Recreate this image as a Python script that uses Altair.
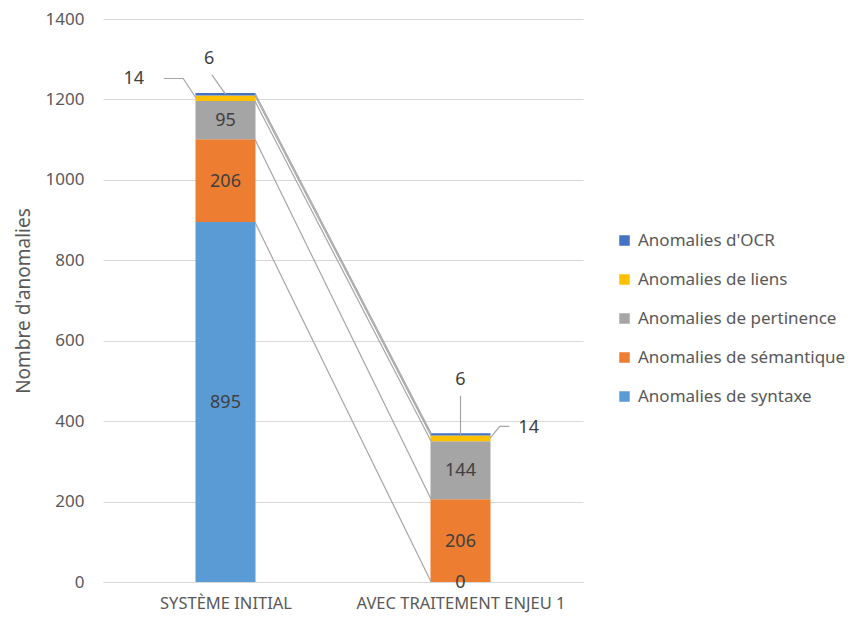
import altair as alt
import pandas as pd

categories = ["SYSTÈME INITIAL", "AVEC TRAITEMENT ENJEU 1"]
series = ["Anomalies de syntaxe", "Anomalies de sémantique", "Anomalies de pertinence",
          "Anomalies de liens", "Anomalies d'OCR"]
colors = ["#5B9BD5", "#ED7D31", "#A5A5A5", "#FFC000", "#4472C4"]
values_initial = [895, 206, 95, 14, 6]
values_traite = [0, 206, 144, 14, 6]

FONT = "Noto Sans"
TXT = "#404040"
AX = "#595959"
HALF = 0.125  # half bar width in category units

rows = []
for ci, vals in enumerate([values_initial, values_traite]):
    cum = 0
    for si, (s, v) in enumerate(zip(series, vals)):
        rows.append(dict(pos=ci, cat=categories[ci], series=s, v=v, y0=cum, y1=cum + v,
                         mid=cum + v / 2, sidx=si))
        cum += v
df = pd.DataFrame(rows)

# series lines connecting cumulative tops
sl = []
for si in range(len(series)):
    a = df[(df.pos == 0) & (df.sidx == si)].iloc[0]
    b = df[(df.pos == 1) & (df.sidx == si)].iloc[0]
    sl.append(dict(x=0 + HALF, x2=1 - HALF, y=a.y1, y2=b.y1))
sl = pd.DataFrame(sl)

inside = df[df.sidx <= 2].copy()
inside["label"] = inside.v.astype(int).astype(str)

def seg(ci, si):
    return df[(df.pos == ci) & (df.sidx == si)].iloc[0]

# callout labels (small segments) with leader lines
callouts = pd.DataFrame([
    dict(label="14", x=-0.39, y=seg(0, 3).y1 + 40),
    dict(label="6", x=-0.07, y=seg(0, 4).y1 + 85),
    dict(label="6", x=1.0, y=seg(1, 4).y1 + 133),
    dict(label="14", x=1.29, y=seg(1, 3).y1 + 18),
])
leaders = pd.DataFrame([
    dict(id=0, o=0, x=-HALF, y=seg(0, 3).mid), dict(id=0, o=1, x=-0.18, y=seg(0, 3).y1 + 42),
    dict(id=0, o=2, x=-0.2625, y=seg(0, 3).y1 + 42),
    dict(id=1, o=0, x=0.0, y=seg(0, 4).mid), dict(id=1, o=1, x=-0.058, y=seg(0, 4).y1 + 45),
    dict(id=2, o=0, x=1.0, y=seg(1, 4).mid), dict(id=2, o=1, x=1.0, y=seg(1, 4).y1 + 93),
    dict(id=3, o=0, x=1 + HALF, y=seg(1, 3).mid), dict(id=3, o=1, x=1.167, y=seg(1, 3).y1 + 23),
    dict(id=3, o=2, x=1.208, y=seg(1, 3).y1 + 23),
])

xscale = alt.Scale(domain=[-0.5, 1.5], nice=False, zero=False)
yscale = alt.Scale(domain=[0, 1400], nice=False)
label_expr = "datum.value == 0 ? '%s' : '%s'" % (categories[0], categories[1])

legend_domain = list(reversed(series))
legend_range = list(reversed(colors))

bars = alt.Chart(df).mark_bar(size=60).encode(
    x=alt.X("pos:Q", scale=xscale, title=None,
            axis=alt.Axis(values=[0, 1], labelExpr=label_expr, grid=False, ticks=False,
                          domainColor="#d9d9d9", labelFont=FONT, labelFontSize=16.5,
                          labelColor=AX, labelPadding=13, labelLimit=0)),
    y=alt.Y("y0:Q", scale=yscale, title="Nombre d'anomalies",
            axis=alt.Axis(values=list(range(0, 1401, 200)), format="d", domain=False, ticks=False,
                          gridColor="#d9d9d9", labelFont=FONT, labelFontSize=17,
                          labelColor=AX, labelPadding=19, titleFont=FONT, titleFontSize=19,
                          titleFontWeight="normal", titleColor=AX, titlePadding=12)),
    y2="y1:Q",
    color=alt.Color("series:N", scale=alt.Scale(domain=legend_domain, range=legend_range),
                    title=None,
                    legend=alt.Legend(orient="none", legendX=513, legendY=213,
                                      symbolType="square", symbolSize=110, symbolStrokeWidth=0,
                                      labelFont=FONT, labelFontSize=17, labelColor=AX,
                                      labelOffset=5, rowPadding=21, labelLimit=0)),
)

lines = alt.Chart(sl).mark_rule(color="#a6a6a6", strokeWidth=1.2).encode(
    x=alt.X("x:Q", scale=xscale), x2="x2:Q", y=alt.Y("y:Q", scale=yscale), y2="y2:Q")

in_text = alt.Chart(inside).mark_text(font=FONT, fontSize=18, color=TXT, dy=1).encode(
    x=alt.X("pos:Q", scale=xscale), y=alt.Y("mid:Q", scale=yscale), text="label:N")

lead = alt.Chart(leaders).mark_line(color="#a6a6a6", strokeWidth=1.2).encode(
    x=alt.X("x:Q", scale=xscale), y=alt.Y("y:Q", scale=yscale), detail="id:N", order="o:Q")

co_text = alt.Chart(callouts).mark_text(font=FONT, fontSize=18, color=TXT).encode(
    x=alt.X("x:Q", scale=xscale), y=alt.Y("y:Q", scale=yscale), text="label:N")

chart = alt.layer(bars, lines, in_text, lead, co_text).properties(
    width=480, height=563,
    autosize=alt.AutoSizeParams(type="none"),
    padding={"left": 95, "top": 11, "right": 265, "bottom": 31},
).configure_view(stroke=None)

chart.save("out.html", embed_options={"renderer": "svg", "actions": False})
